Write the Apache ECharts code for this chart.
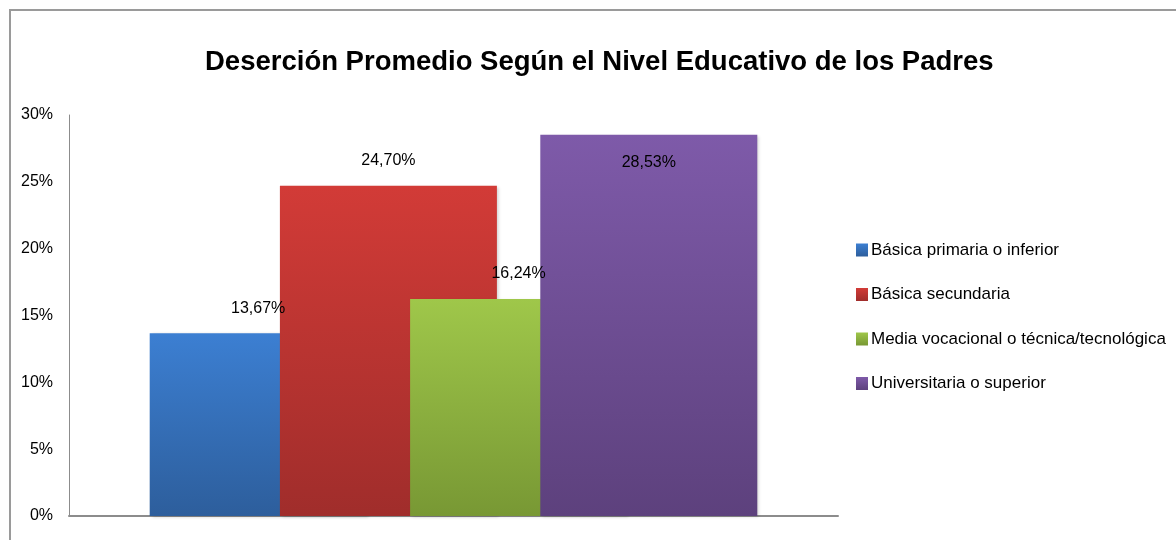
<!DOCTYPE html>
<html>
<head>
<meta charset="utf-8">
<script src="https://cdn.jsdelivr.net/npm/echarts@6/dist/echarts.min.js"></script>
<style>
  html, body { margin: 0; padding: 0; background: #ffffff; }
  #chart { width: 1176px; height: 540px; }
</style>
</head>
<body>
<div id="chart"></div>
<script>
// Average dropout rate by parents' education level
const titleText = 'Deserción Promedio Según el Nivel Educativo de los Padres';
const categories = [''];
const seriesNames = [
  'Básica primaria o inferior',
  'Básica secundaria',
  'Media vocacional o técnica/tecnológica',
  'Universitaria o superior'
];
const seriesValues = [13.67, 24.70, 16.24, 28.53];
const yTicks = [0, 5, 10, 15, 20, 25, 30];

// top / bottom colours of each bar's vertical gradient
const gradients = [
  ['#3c7fd2', '#2d5e9c'],
  ['#d23b37', '#a02d2b'],
  ['#9fc74a', '#789834'],
  ['#7e5aa9', '#5d417d']
];

const FONT = '"Liberation Sans", Arial, sans-serif';

function grad(c) {
  return new echarts.graphic.LinearGradient(0, 0, 0, 1, [
    { offset: 0, color: c[0] },
    { offset: 1, color: c[1] }
  ]);
}

const fmt = v => v.toFixed(2).replace('.', ',') + '%';

const series = seriesNames.map((name, i) => ({
  name: name,
  type: 'bar',
  data: [seriesValues[i]],
  barWidth: 217,
  barGap: '-40%',
  itemStyle: {
    color: grad(gradients[i]),
    shadowColor: 'rgba(0,0,0,0.18)',
    shadowBlur: 3,
    shadowOffsetX: 2,
    shadowOffsetY: 1
  },
  label: {
    show: true,
    position: i === 3 ? 'insideTop' : 'top',
    distance: i === 3 ? 20 : 17,
    formatter: p => fmt(p.value),
    color: '#000',
    fontFamily: FONT,
    fontSize: 16
  }
}));

const chart = echarts.init(document.getElementById('chart'));
chart.setOption({
  animation: false,
  backgroundColor: '#ffffff',
  title: {
    text: titleText,
    left: 200,
    top: 43,
    textStyle: { fontFamily: FONT, fontWeight: 'bold', fontSize: 27.5, color: '#000' }
  },
  graphic: [{
    type: 'rect',
    shape: { x: 10, y: 10, width: 1200, height: 600 },
    style: { fill: 'none', stroke: '#9a9a9a', lineWidth: 2 },
    silent: true
  }],
  legend: {
    orient: 'vertical',
    left: 851,
    top: 235,
    icon: 'rect',
    itemWidth: 12,
    itemHeight: 13,
    itemGap: 24.5,
    data: seriesNames,
    textStyle: { fontFamily: FONT, fontSize: 17, color: '#000', lineHeight: 20, padding: [0, 0, 0, -2] }
  },
  grid: { left: 69, right: 338, top: 115, bottom: 24 },
  xAxis: {
    type: 'category',
    data: categories,
    axisLine: { lineStyle: { color: '#8c8c8c', width: 2 } },
    axisTick: { show: false },
    axisLabel: { show: false }
  },
  yAxis: {
    type: 'value',
    min: yTicks[0],
    max: yTicks[yTicks.length - 1],
    interval: 5,
    axisLine: { show: true, lineStyle: { color: '#8c8c8c', width: 1 } },
    axisTick: { show: false },
    splitLine: { show: false },
    axisLabel: {
      formatter: '{value}%',
      margin: 16,
      fontFamily: FONT,
      fontSize: 16,
      color: '#000'
    }
  },
  series: series
});
</script>
</body>
</html>
